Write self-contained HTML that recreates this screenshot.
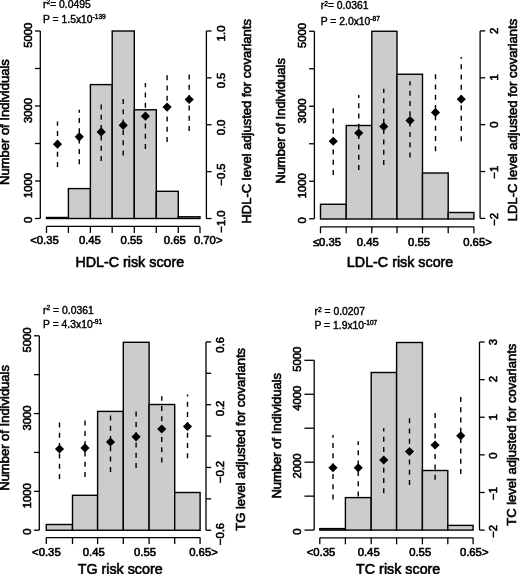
<!DOCTYPE html>
<html><head><meta charset="utf-8"><style>
html,body{margin:0;padding:0;background:#fff;}
svg{display:block;font-family:"Liberation Sans", sans-serif;filter:grayscale(1) blur(0.35px);}
text{stroke:#000;stroke-width:0.6px;}
text.st{stroke-width:0.4px;}
</style></head><body>
<svg width="520" height="574" viewBox="0 0 520 574">
<rect width="520" height="574" fill="#fff"/>
<line x1="40.3" y1="31.0" x2="40.3" y2="218.5" stroke="#000" stroke-width="1.3"/>
<line x1="35.0" y1="218.5" x2="40.3" y2="218.5" stroke="#000" stroke-width="1.3"/>
<line x1="35.0" y1="181.0" x2="40.3" y2="181.0" stroke="#000" stroke-width="1.3"/>
<line x1="35.0" y1="143.5" x2="40.3" y2="143.5" stroke="#000" stroke-width="1.3"/>
<line x1="35.0" y1="106.0" x2="40.3" y2="106.0" stroke="#000" stroke-width="1.3"/>
<line x1="35.0" y1="68.5" x2="40.3" y2="68.5" stroke="#000" stroke-width="1.3"/>
<line x1="35.0" y1="31.0" x2="40.3" y2="31.0" stroke="#000" stroke-width="1.3"/>
<text transform="translate(32.4,219.8) rotate(-90)" text-anchor="middle" font-size="11.3">0</text>
<text transform="translate(32.4,185.5) rotate(-90)" text-anchor="middle" font-size="11.3">1000</text>
<text transform="translate(32.4,110.5) rotate(-90)" text-anchor="middle" font-size="11.3">3000</text>
<text transform="translate(32.4,35.2) rotate(-90)" text-anchor="middle" font-size="11.3">5000</text>
<rect x="46.5" y="217.5" width="21.900000000000006" height="1.0" fill="#cccccc" stroke="#000" stroke-width="1.4"/>
<rect x="68.4" y="188.6" width="22.0" height="29.900000000000006" fill="#cccccc" stroke="#000" stroke-width="1.4"/>
<rect x="90.4" y="84.6" width="21.799999999999997" height="133.9" fill="#cccccc" stroke="#000" stroke-width="1.4"/>
<rect x="112.2" y="31" width="22.10000000000001" height="187.5" fill="#cccccc" stroke="#000" stroke-width="1.4"/>
<rect x="134.3" y="109.8" width="22.0" height="108.7" fill="#cccccc" stroke="#000" stroke-width="1.4"/>
<rect x="156.3" y="191.3" width="22.0" height="27.19999999999999" fill="#cccccc" stroke="#000" stroke-width="1.4"/>
<rect x="178.3" y="216.8" width="21.69999999999999" height="1.6999999999999886" fill="#cccccc" stroke="#000" stroke-width="1.4"/>
<line x1="46.5" y1="226.4" x2="200.0" y2="226.4" stroke="#000" stroke-width="1.3"/>
<line x1="46.5" y1="226.4" x2="46.5" y2="232.9" stroke="#000" stroke-width="1.3"/>
<line x1="68.4" y1="226.4" x2="68.4" y2="232.9" stroke="#000" stroke-width="1.3"/>
<line x1="90.4" y1="226.4" x2="90.4" y2="232.9" stroke="#000" stroke-width="1.3"/>
<line x1="112.2" y1="226.4" x2="112.2" y2="232.9" stroke="#000" stroke-width="1.3"/>
<line x1="134.3" y1="226.4" x2="134.3" y2="232.9" stroke="#000" stroke-width="1.3"/>
<line x1="156.3" y1="226.4" x2="156.3" y2="232.9" stroke="#000" stroke-width="1.3"/>
<line x1="178.3" y1="226.4" x2="178.3" y2="232.9" stroke="#000" stroke-width="1.3"/>
<line x1="200.0" y1="226.4" x2="200.0" y2="232.9" stroke="#000" stroke-width="1.3"/>
<text x="44.5" y="244.3" text-anchor="middle" font-size="11.3">&lt;0.35</text>
<text x="89.9" y="244.3" text-anchor="middle" font-size="11.3">0.45</text>
<text x="131.6" y="244.3" text-anchor="middle" font-size="11.3">0.55</text>
<text x="174.8" y="244.3" text-anchor="middle" font-size="11.3">0.65</text>
<text x="208.2" y="244.3" text-anchor="middle" font-size="11.3">0.70&gt;</text>
<line x1="206.4" y1="31.0" x2="206.4" y2="218.5" stroke="#000" stroke-width="1.3"/>
<line x1="206.4" y1="31.0" x2="211.6" y2="31.0" stroke="#000" stroke-width="1.3"/>
<line x1="206.4" y1="77.875" x2="211.6" y2="77.875" stroke="#000" stroke-width="1.3"/>
<line x1="206.4" y1="124.75" x2="211.6" y2="124.75" stroke="#000" stroke-width="1.3"/>
<line x1="206.4" y1="171.625" x2="211.6" y2="171.625" stroke="#000" stroke-width="1.3"/>
<line x1="206.4" y1="218.5" x2="211.6" y2="218.5" stroke="#000" stroke-width="1.3"/>
<text transform="translate(225.3,33.4) rotate(-90)" text-anchor="middle" font-size="11.3">1.0</text>
<text transform="translate(225.3,80.5) rotate(-90)" text-anchor="middle" font-size="11.3">0.5</text>
<text transform="translate(225.3,127.5) rotate(-90)" text-anchor="middle" font-size="11.3">0.0</text>
<text transform="translate(225.3,174.5) rotate(-90)" text-anchor="middle" font-size="11.3">−0.5</text>
<text transform="translate(225.3,221.5) rotate(-90)" text-anchor="middle" font-size="11.3">−1.0</text>
<line x1="57.5" y1="167" x2="57.5" y2="121.5" stroke="#000" stroke-width="1.4" stroke-dasharray="5,5.3"/>
<line x1="79.3" y1="164.2" x2="79.3" y2="109.8" stroke="#000" stroke-width="1.4" stroke-dasharray="5,5.3"/>
<line x1="101.2" y1="161" x2="101.2" y2="104.6" stroke="#000" stroke-width="1.4" stroke-dasharray="5,5.3"/>
<line x1="123.2" y1="155.5" x2="123.2" y2="98.4" stroke="#000" stroke-width="1.4" stroke-dasharray="5,5.3"/>
<line x1="145.4" y1="149" x2="145.4" y2="83" stroke="#000" stroke-width="1.4" stroke-dasharray="5,5.3"/>
<line x1="167.1" y1="142" x2="167.1" y2="74.4" stroke="#000" stroke-width="1.4" stroke-dasharray="5,5.3"/>
<line x1="189.2" y1="131" x2="189.2" y2="73.5" stroke="#000" stroke-width="1.4" stroke-dasharray="5,5.3"/>
<path d="M57.5 139.6L62.1 144.2L57.5 148.79999999999998L52.9 144.2Z" fill="#000"/>
<path d="M79.3 132.20000000000002L83.89999999999999 136.8L79.3 141.4L74.7 136.8Z" fill="#000"/>
<path d="M101.2 127.30000000000001L105.8 131.9L101.2 136.5L96.60000000000001 131.9Z" fill="#000"/>
<path d="M123.2 120.7L127.8 125.3L123.2 129.9L118.60000000000001 125.3Z" fill="#000"/>
<path d="M145.4 111.60000000000001L150.0 116.2L145.4 120.8L140.8 116.2Z" fill="#000"/>
<path d="M167.1 102.5L171.7 107.1L167.1 111.69999999999999L162.5 107.1Z" fill="#000"/>
<path d="M189.2 94.9L193.79999999999998 99.5L189.2 104.1L184.6 99.5Z" fill="#000"/>
<text x="129.8" y="267.2" text-anchor="middle" font-size="14.3">HDL-C risk score</text>
<text transform="translate(8.9,122.1) rotate(-90)" text-anchor="middle" font-size="13">Number of Individuals</text>
<text transform="translate(251.0,121.3) rotate(-90)" text-anchor="middle" font-size="13">HDL-C level adjusted for covariants</text>
<text x="43" y="7.9" font-size="10.35" class="st">r<tspan font-size="6.6" dy="-3.5">2</tspan><tspan dy="3.5">= 0.0495</tspan></text>
<text x="43" y="23.3" font-size="10.35" class="st">P = 1.5x10<tspan font-size="6.6" dy="-4.0">-139</tspan></text>
<line x1="314.4" y1="31.25" x2="314.4" y2="218.75" stroke="#000" stroke-width="1.3"/>
<line x1="309.09999999999997" y1="218.75" x2="314.4" y2="218.75" stroke="#000" stroke-width="1.3"/>
<line x1="309.09999999999997" y1="181.25" x2="314.4" y2="181.25" stroke="#000" stroke-width="1.3"/>
<line x1="309.09999999999997" y1="143.75" x2="314.4" y2="143.75" stroke="#000" stroke-width="1.3"/>
<line x1="309.09999999999997" y1="106.25" x2="314.4" y2="106.25" stroke="#000" stroke-width="1.3"/>
<line x1="309.09999999999997" y1="68.75" x2="314.4" y2="68.75" stroke="#000" stroke-width="1.3"/>
<line x1="309.09999999999997" y1="31.25" x2="314.4" y2="31.25" stroke="#000" stroke-width="1.3"/>
<text transform="translate(305.8,220.4) rotate(-90)" text-anchor="middle" font-size="11.3">0</text>
<text transform="translate(305.8,185.8) rotate(-90)" text-anchor="middle" font-size="11.3">1000</text>
<text transform="translate(305.8,111) rotate(-90)" text-anchor="middle" font-size="11.3">3000</text>
<text transform="translate(305.8,35.5) rotate(-90)" text-anchor="middle" font-size="11.3">5000</text>
<rect x="320.5" y="204.25" width="25.69999999999999" height="14.75" fill="#cccccc" stroke="#000" stroke-width="1.4"/>
<rect x="346.2" y="125.5" width="25.600000000000023" height="93.5" fill="#cccccc" stroke="#000" stroke-width="1.4"/>
<rect x="371.8" y="31.25" width="25.19999999999999" height="187.75" fill="#cccccc" stroke="#000" stroke-width="1.4"/>
<rect x="397.0" y="74.25" width="25.5" height="144.75" fill="#cccccc" stroke="#000" stroke-width="1.4"/>
<rect x="422.5" y="173" width="25.69999999999999" height="46.0" fill="#cccccc" stroke="#000" stroke-width="1.4"/>
<rect x="448.2" y="212.5" width="25.69999999999999" height="6.5" fill="#cccccc" stroke="#000" stroke-width="1.4"/>
<line x1="320.5" y1="226.8" x2="473.9" y2="226.8" stroke="#000" stroke-width="1.3"/>
<line x1="320.5" y1="226.8" x2="320.5" y2="233.3" stroke="#000" stroke-width="1.3"/>
<line x1="346.2" y1="226.8" x2="346.2" y2="233.3" stroke="#000" stroke-width="1.3"/>
<line x1="371.8" y1="226.8" x2="371.8" y2="233.3" stroke="#000" stroke-width="1.3"/>
<line x1="397.0" y1="226.8" x2="397.0" y2="233.3" stroke="#000" stroke-width="1.3"/>
<line x1="422.5" y1="226.8" x2="422.5" y2="233.3" stroke="#000" stroke-width="1.3"/>
<line x1="448.2" y1="226.8" x2="448.2" y2="233.3" stroke="#000" stroke-width="1.3"/>
<line x1="473.9" y1="226.8" x2="473.9" y2="233.3" stroke="#000" stroke-width="1.3"/>
<text x="327" y="245.5" text-anchor="middle" font-size="11.3">≤0.35</text>
<text x="367.8" y="245.5" text-anchor="middle" font-size="11.3">0.45</text>
<text x="419" y="245.5" text-anchor="middle" font-size="11.3">0.55</text>
<text x="477.5" y="245.5" text-anchor="middle" font-size="11.3">0.65&gt;</text>
<line x1="480.1" y1="30.9" x2="480.1" y2="218.4" stroke="#000" stroke-width="1.3"/>
<line x1="480.1" y1="30.9" x2="485.3" y2="30.9" stroke="#000" stroke-width="1.3"/>
<line x1="480.1" y1="77.775" x2="485.3" y2="77.775" stroke="#000" stroke-width="1.3"/>
<line x1="480.1" y1="124.65" x2="485.3" y2="124.65" stroke="#000" stroke-width="1.3"/>
<line x1="480.1" y1="171.525" x2="485.3" y2="171.525" stroke="#000" stroke-width="1.3"/>
<line x1="480.1" y1="218.4" x2="485.3" y2="218.4" stroke="#000" stroke-width="1.3"/>
<text transform="translate(498.0,30.8) rotate(-90)" text-anchor="middle" font-size="11.3">2</text>
<text transform="translate(498.0,77.3) rotate(-90)" text-anchor="middle" font-size="11.3">1</text>
<text transform="translate(498.0,124.5) rotate(-90)" text-anchor="middle" font-size="11.3">0</text>
<text transform="translate(498.0,172.2) rotate(-90)" text-anchor="middle" font-size="11.3">−1</text>
<text transform="translate(498.0,219.4) rotate(-90)" text-anchor="middle" font-size="11.3">−2</text>
<line x1="333.25" y1="175" x2="333.25" y2="107.5" stroke="#000" stroke-width="1.4" stroke-dasharray="5,5.3"/>
<line x1="358.75" y1="170" x2="358.75" y2="95" stroke="#000" stroke-width="1.4" stroke-dasharray="5,5.3"/>
<line x1="383.75" y1="165" x2="383.75" y2="88.75" stroke="#000" stroke-width="1.4" stroke-dasharray="5,5.3"/>
<line x1="410" y1="157.5" x2="410" y2="81.25" stroke="#000" stroke-width="1.4" stroke-dasharray="5,5.3"/>
<line x1="435.5" y1="151.25" x2="435.5" y2="73" stroke="#000" stroke-width="1.4" stroke-dasharray="5,5.3"/>
<line x1="461.25" y1="141.25" x2="461.25" y2="57" stroke="#000" stroke-width="1.4" stroke-dasharray="5,5.3"/>
<path d="M333.25 136.65L337.85 141.25L333.25 145.85L328.65 141.25Z" fill="#000"/>
<path d="M358.75 128.4L363.35 133L358.75 137.6L354.15 133Z" fill="#000"/>
<path d="M383.75 121.9L388.35 126.5L383.75 131.1L379.15 126.5Z" fill="#000"/>
<path d="M410 115.9L414.6 120.5L410 125.1L405.4 120.5Z" fill="#000"/>
<path d="M435.5 107.9L440.1 112.5L435.5 117.1L430.9 112.5Z" fill="#000"/>
<path d="M461.25 94.65L465.85 99.25L461.25 103.85L456.65 99.25Z" fill="#000"/>
<text x="400.1" y="266.5" text-anchor="middle" font-size="14.3">LDL-C risk score</text>
<text transform="translate(285.0,120.9) rotate(-90)" text-anchor="middle" font-size="13">Number of Individuals</text>
<text transform="translate(517.4,120.0) rotate(-90)" text-anchor="middle" font-size="13">LDL-C level adjusted for covariants</text>
<text x="320.75" y="9.0" font-size="10.35" class="st">r<tspan font-size="6.6" dy="-3.5">2</tspan><tspan dy="3.5">= 0.0361</tspan></text>
<text x="320.75" y="25.0" font-size="10.35" class="st">P = 2.0x10<tspan font-size="6.6" dy="-4.0">-87</tspan></text>
<line x1="39.3" y1="335.8" x2="39.3" y2="530.2" stroke="#000" stroke-width="1.3"/>
<line x1="34.0" y1="530.2" x2="39.3" y2="530.2" stroke="#000" stroke-width="1.3"/>
<line x1="34.0" y1="491.32000000000005" x2="39.3" y2="491.32000000000005" stroke="#000" stroke-width="1.3"/>
<line x1="34.0" y1="452.44000000000005" x2="39.3" y2="452.44000000000005" stroke="#000" stroke-width="1.3"/>
<line x1="34.0" y1="413.56000000000006" x2="39.3" y2="413.56000000000006" stroke="#000" stroke-width="1.3"/>
<line x1="34.0" y1="374.68" x2="39.3" y2="374.68" stroke="#000" stroke-width="1.3"/>
<line x1="34.0" y1="335.8" x2="39.3" y2="335.8" stroke="#000" stroke-width="1.3"/>
<text transform="translate(30.9,531.5) rotate(-90)" text-anchor="middle" font-size="11.3">0</text>
<text transform="translate(30.9,495.8) rotate(-90)" text-anchor="middle" font-size="11.3">1000</text>
<text transform="translate(30.9,418) rotate(-90)" text-anchor="middle" font-size="11.3">3000</text>
<text transform="translate(30.9,340) rotate(-90)" text-anchor="middle" font-size="11.3">5000</text>
<rect x="46.3" y="524.5" width="26.200000000000003" height="5.75" fill="#cccccc" stroke="#000" stroke-width="1.4"/>
<rect x="72.5" y="495.3" width="25.099999999999994" height="34.94999999999999" fill="#cccccc" stroke="#000" stroke-width="1.4"/>
<rect x="97.6" y="411.4" width="25.700000000000003" height="118.85000000000002" fill="#cccccc" stroke="#000" stroke-width="1.4"/>
<rect x="123.3" y="342.3" width="25.799999999999997" height="187.95" fill="#cccccc" stroke="#000" stroke-width="1.4"/>
<rect x="149.1" y="404.5" width="25.599999999999994" height="125.75" fill="#cccccc" stroke="#000" stroke-width="1.4"/>
<rect x="174.7" y="492.5" width="25.400000000000006" height="37.75" fill="#cccccc" stroke="#000" stroke-width="1.4"/>
<line x1="46.3" y1="537.6" x2="200.1" y2="537.6" stroke="#000" stroke-width="1.3"/>
<line x1="46.3" y1="537.6" x2="46.3" y2="544.1" stroke="#000" stroke-width="1.3"/>
<line x1="72.5" y1="537.6" x2="72.5" y2="544.1" stroke="#000" stroke-width="1.3"/>
<line x1="97.6" y1="537.6" x2="97.6" y2="544.1" stroke="#000" stroke-width="1.3"/>
<line x1="123.3" y1="537.6" x2="123.3" y2="544.1" stroke="#000" stroke-width="1.3"/>
<line x1="149.1" y1="537.6" x2="149.1" y2="544.1" stroke="#000" stroke-width="1.3"/>
<line x1="174.7" y1="537.6" x2="174.7" y2="544.1" stroke="#000" stroke-width="1.3"/>
<line x1="200.1" y1="537.6" x2="200.1" y2="544.1" stroke="#000" stroke-width="1.3"/>
<text x="46.4" y="556.2" text-anchor="middle" font-size="11.3">&lt;0.35</text>
<text x="93.8" y="556.2" text-anchor="middle" font-size="11.3">0.45</text>
<text x="145" y="556.2" text-anchor="middle" font-size="11.3">0.55</text>
<text x="203.5" y="556.2" text-anchor="middle" font-size="11.3">0.65&gt;</text>
<line x1="206.0" y1="341.9" x2="206.0" y2="530.25" stroke="#000" stroke-width="1.3"/>
<line x1="206.0" y1="341.9" x2="211.2" y2="341.9" stroke="#000" stroke-width="1.3"/>
<line x1="206.0" y1="373.29166666666663" x2="211.2" y2="373.29166666666663" stroke="#000" stroke-width="1.3"/>
<line x1="206.0" y1="404.68333333333334" x2="211.2" y2="404.68333333333334" stroke="#000" stroke-width="1.3"/>
<line x1="206.0" y1="436.075" x2="211.2" y2="436.075" stroke="#000" stroke-width="1.3"/>
<line x1="206.0" y1="467.46666666666664" x2="211.2" y2="467.46666666666664" stroke="#000" stroke-width="1.3"/>
<line x1="206.0" y1="498.85833333333335" x2="211.2" y2="498.85833333333335" stroke="#000" stroke-width="1.3"/>
<line x1="206.0" y1="530.25" x2="211.2" y2="530.25" stroke="#000" stroke-width="1.3"/>
<text transform="translate(224.4,344.9) rotate(-90)" text-anchor="middle" font-size="11.3">0.6</text>
<text transform="translate(224.4,408.5) rotate(-90)" text-anchor="middle" font-size="11.3">0.2</text>
<text transform="translate(224.4,472) rotate(-90)" text-anchor="middle" font-size="11.3">−0.2</text>
<text transform="translate(224.4,534) rotate(-90)" text-anchor="middle" font-size="11.3">−0.6</text>
<line x1="59.5" y1="479" x2="59.5" y2="421.5" stroke="#000" stroke-width="1.4" stroke-dasharray="5,5.3"/>
<line x1="85" y1="477.1" x2="85" y2="420" stroke="#000" stroke-width="1.4" stroke-dasharray="5,5.3"/>
<line x1="110.5" y1="471.9" x2="110.5" y2="414.4" stroke="#000" stroke-width="1.4" stroke-dasharray="5,5.3"/>
<line x1="136.1" y1="468.1" x2="136.1" y2="410" stroke="#000" stroke-width="1.4" stroke-dasharray="5,5.3"/>
<line x1="161.75" y1="462.5" x2="161.75" y2="396.25" stroke="#000" stroke-width="1.4" stroke-dasharray="5,5.3"/>
<line x1="187.5" y1="458.25" x2="187.5" y2="394.5" stroke="#000" stroke-width="1.4" stroke-dasharray="5,5.3"/>
<path d="M59.5 444.4L64.1 449L59.5 453.6L54.9 449Z" fill="#000"/>
<path d="M85 443.29999999999995L89.6 447.9L85 452.5L80.4 447.9Z" fill="#000"/>
<path d="M110.5 437.4L115.1 442L110.5 446.6L105.9 442Z" fill="#000"/>
<path d="M136.1 432.2L140.7 436.8L136.1 441.40000000000003L131.5 436.8Z" fill="#000"/>
<path d="M161.75 424.4L166.35 429L161.75 433.6L157.15 429Z" fill="#000"/>
<path d="M187.5 421.9L192.1 426.5L187.5 431.1L182.9 426.5Z" fill="#000"/>
<text x="120.2" y="573.6" text-anchor="middle" font-size="14.3">TG risk score</text>
<text transform="translate(9.2,427.9) rotate(-90)" text-anchor="middle" font-size="13">Number of Individuals</text>
<text transform="translate(245.2,439.3) rotate(-90)" text-anchor="middle" font-size="13">TG level adjusted for covariants</text>
<text x="43.1" y="313.9" font-size="10.35" class="st">r<tspan font-size="6.6" dy="-3.5">2</tspan><tspan dy="3.5"> = 0.0361</tspan></text>
<text x="43.1" y="328" font-size="10.35" class="st">P = 4.3x10<tspan font-size="6.6" dy="-4.0">-91</tspan></text>
<line x1="314.2" y1="360.3" x2="314.2" y2="530.1" stroke="#000" stroke-width="1.3"/>
<line x1="304.4" y1="530.1" x2="314.2" y2="530.1" stroke="#000" stroke-width="1.3"/>
<line x1="304.4" y1="496.14000000000004" x2="314.2" y2="496.14000000000004" stroke="#000" stroke-width="1.3"/>
<line x1="304.4" y1="462.18" x2="314.2" y2="462.18" stroke="#000" stroke-width="1.3"/>
<line x1="304.4" y1="428.22" x2="314.2" y2="428.22" stroke="#000" stroke-width="1.3"/>
<line x1="304.4" y1="394.26" x2="314.2" y2="394.26" stroke="#000" stroke-width="1.3"/>
<line x1="304.4" y1="360.3" x2="314.2" y2="360.3" stroke="#000" stroke-width="1.3"/>
<text transform="translate(301.4,531.5) rotate(-90)" text-anchor="middle" font-size="11.3">0</text>
<text transform="translate(301.4,466) rotate(-90)" text-anchor="middle" font-size="11.3">2000</text>
<text transform="translate(301.4,398.3) rotate(-90)" text-anchor="middle" font-size="11.3">4000</text>
<text transform="translate(301.4,359.3) rotate(-90)" text-anchor="middle" font-size="11.3">5000</text>
<rect x="319.8" y="528.6" width="25.599999999999966" height="1.5" fill="#cccccc" stroke="#000" stroke-width="1.4"/>
<rect x="345.4" y="497.6" width="25.80000000000001" height="32.5" fill="#cccccc" stroke="#000" stroke-width="1.4"/>
<rect x="371.2" y="372.5" width="25.400000000000034" height="157.60000000000002" fill="#cccccc" stroke="#000" stroke-width="1.4"/>
<rect x="396.6" y="342.5" width="25.799999999999955" height="187.60000000000002" fill="#cccccc" stroke="#000" stroke-width="1.4"/>
<rect x="422.4" y="470.5" width="25.400000000000034" height="59.60000000000002" fill="#cccccc" stroke="#000" stroke-width="1.4"/>
<rect x="447.8" y="525.4" width="25.30000000000001" height="4.7000000000000455" fill="#cccccc" stroke="#000" stroke-width="1.4"/>
<line x1="319.8" y1="537.8" x2="473.1" y2="537.8" stroke="#000" stroke-width="1.3"/>
<line x1="319.8" y1="537.8" x2="319.8" y2="544.3" stroke="#000" stroke-width="1.3"/>
<line x1="345.4" y1="537.8" x2="345.4" y2="544.3" stroke="#000" stroke-width="1.3"/>
<line x1="371.2" y1="537.8" x2="371.2" y2="544.3" stroke="#000" stroke-width="1.3"/>
<line x1="396.6" y1="537.8" x2="396.6" y2="544.3" stroke="#000" stroke-width="1.3"/>
<line x1="422.4" y1="537.8" x2="422.4" y2="544.3" stroke="#000" stroke-width="1.3"/>
<line x1="447.8" y1="537.8" x2="447.8" y2="544.3" stroke="#000" stroke-width="1.3"/>
<line x1="473.1" y1="537.8" x2="473.1" y2="544.3" stroke="#000" stroke-width="1.3"/>
<text x="321" y="556.1" text-anchor="middle" font-size="11.3">&lt;0.35</text>
<text x="368.7" y="556.1" text-anchor="middle" font-size="11.3">0.45</text>
<text x="420.2" y="556.1" text-anchor="middle" font-size="11.3">0.55</text>
<text x="474.2" y="556.1" text-anchor="middle" font-size="11.3">0.65&gt;</text>
<line x1="479.5" y1="342.0" x2="479.5" y2="530.1" stroke="#000" stroke-width="1.3"/>
<line x1="479.5" y1="342.0" x2="484.7" y2="342.0" stroke="#000" stroke-width="1.3"/>
<line x1="479.5" y1="379.62" x2="484.7" y2="379.62" stroke="#000" stroke-width="1.3"/>
<line x1="479.5" y1="417.24" x2="484.7" y2="417.24" stroke="#000" stroke-width="1.3"/>
<line x1="479.5" y1="454.86" x2="484.7" y2="454.86" stroke="#000" stroke-width="1.3"/>
<line x1="479.5" y1="492.48" x2="484.7" y2="492.48" stroke="#000" stroke-width="1.3"/>
<line x1="479.5" y1="530.1" x2="484.7" y2="530.1" stroke="#000" stroke-width="1.3"/>
<text transform="translate(497.1,342.2) rotate(-90)" text-anchor="middle" font-size="11.3">3</text>
<text transform="translate(497.1,379.2) rotate(-90)" text-anchor="middle" font-size="11.3">2</text>
<text transform="translate(497.1,417.2) rotate(-90)" text-anchor="middle" font-size="11.3">1</text>
<text transform="translate(497.1,455.5) rotate(-90)" text-anchor="middle" font-size="11.3">0</text>
<text transform="translate(497.1,493.5) rotate(-90)" text-anchor="middle" font-size="11.3">−1</text>
<text transform="translate(497.1,531.3) rotate(-90)" text-anchor="middle" font-size="11.3">−2</text>
<line x1="333" y1="499.5" x2="333" y2="435" stroke="#000" stroke-width="1.4" stroke-dasharray="5,5.3"/>
<line x1="358.25" y1="496.5" x2="358.25" y2="441.25" stroke="#000" stroke-width="1.4" stroke-dasharray="5,5.3"/>
<line x1="383.75" y1="493.25" x2="383.75" y2="428" stroke="#000" stroke-width="1.4" stroke-dasharray="5,5.3"/>
<line x1="409.5" y1="485" x2="409.5" y2="418" stroke="#000" stroke-width="1.4" stroke-dasharray="5,5.3"/>
<line x1="435.1" y1="479.7" x2="435.1" y2="411.8" stroke="#000" stroke-width="1.4" stroke-dasharray="5,5.3"/>
<line x1="460.75" y1="474" x2="460.75" y2="397" stroke="#000" stroke-width="1.4" stroke-dasharray="5,5.3"/>
<path d="M333 463.15L337.6 467.75L333 472.35L328.4 467.75Z" fill="#000"/>
<path d="M358.25 463.15L362.85 467.75L358.25 472.35L353.65 467.75Z" fill="#000"/>
<path d="M383.75 455.4L388.35 460L383.75 464.6L379.15 460Z" fill="#000"/>
<path d="M409.5 446.9L414.1 451.5L409.5 456.1L404.9 451.5Z" fill="#000"/>
<path d="M435.1 440.4L439.70000000000005 445L435.1 449.6L430.5 445Z" fill="#000"/>
<path d="M460.75 431.15L465.35 435.75L460.75 440.35L456.15 435.75Z" fill="#000"/>
<text x="398.2" y="573.6" text-anchor="middle" font-size="14.3">TC risk score</text>
<text transform="translate(281.3,435.75) rotate(-90)" text-anchor="middle" font-size="13">Number of Individuals</text>
<text transform="translate(515.9,434.75) rotate(-90)" text-anchor="middle" font-size="13">TC level adjusted for covariants</text>
<text x="314.5" y="315.2" font-size="10.35" class="st">r<tspan font-size="6.6" dy="-3.5">2</tspan><tspan dy="3.5"> = 0.0207</tspan></text>
<text x="314.5" y="328.8" font-size="10.35" class="st">P = 1.9x10<tspan font-size="6.6" dy="-4.0">-107</tspan></text>
</svg>
</body></html>
